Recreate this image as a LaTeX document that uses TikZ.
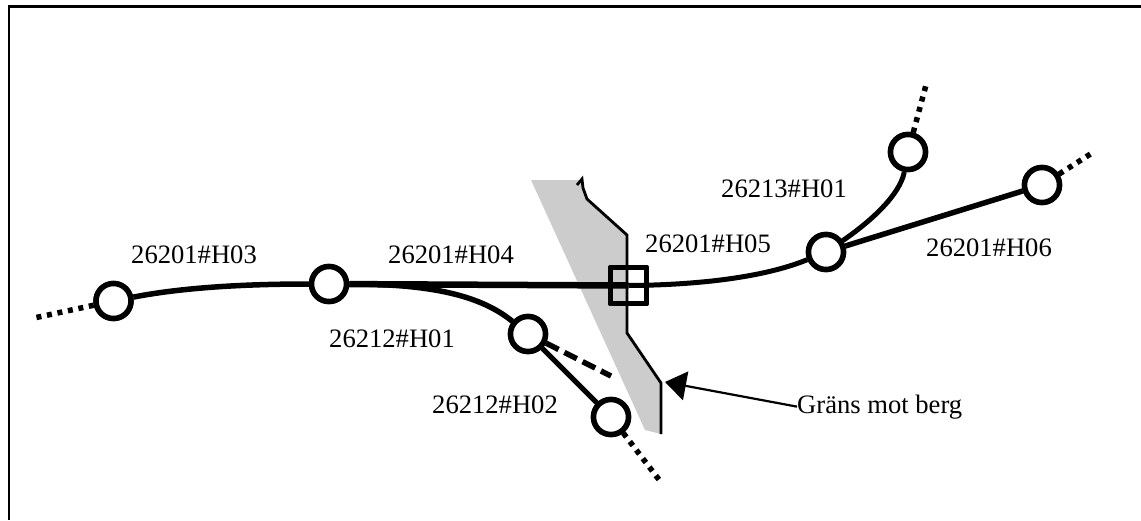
\documentclass[tikz,border=0pt]{standalone}
\usepackage{fontspec}
\setmainfont{Liberation Serif}
\usetikzlibrary{arrows.meta}
\definecolor{rockgrey}{gray}{0.8}
\tikzset{
  x=1pt,y=-1pt,
  station/.style={circle,draw=black,fill=white,line width=5.5pt,minimum size=35pt,inner sep=0pt},
  crossing/.style={rectangle,draw=black,line width=5.5pt,minimum size=36pt,inner sep=0pt,line join=round},
  lbl/.style={anchor=base west,inner sep=0pt,font=\fontsize{26.6}{30}\selectfont},
  thickline/.style={line width=6.5pt},
  trackline/.style={line width=5.5pt},
  dottedline/.style={line width=5.5pt,dash pattern=on 5pt off 5.7pt},
  dashedline/.style={line width=5.5pt,dash pattern=on 14pt off 6.5pt},
  boundary/.style={line width=2.8pt,line join=miter},
}
\begin{document}
\begin{tikzpicture}
\useasboundingbox (0,0) rectangle (1141,520);
\draw[line width=2.2pt] (1141,6.5) -- (9,6.5) -- (9,520);
\fill[rockgrey] (531,180) -- (582,180) -- (583,188) -- (587,199) -- (627,235) -- (627,333) -- (661,383) -- (661,434) -- (645,430) -- cycle;
\draw[boundary] (577,185) -- (582,179) -- (583,188) -- (587,199) -- (627,235) -- (627,333) -- (661,383) -- (661,434);

\coordinate (endA) at (34,318);
\coordinate (endD) at (660,481);
\coordinate (endF) at (926,85);
\coordinate (endG) at (1092,153);
\coordinate (endC) at (611,376);
\coordinate (tip) at (665,382);

\node[station] (A) at (113.5,301) {};
\node[station] (B) at (329,284) {};
\node[station] (C) at (528,334) {};
\node[station] (D) at (611,417) {};
\node[station] (E) at (826,252) {};
\node[station] (F) at (908,152) {};
\node[station] (G) at (1042,185) {};
\node[crossing] (Q) at (628.5,285.5) {};

\draw[dottedline] (A) -- (endA);
\draw[dottedline] (D) -- (endD);
\draw[dottedline] (F) -- (endF);
\draw[dottedline] (G) -- (endG);
\draw[dashedline] (C) -- (endC);
\draw[trackline] (A) .. controls (190,286) and (260,284) .. (B);
\draw[thickline] (B) -- (Q.center);
\draw[trackline] (B) .. controls (430,284) and (480,295) .. (C);
\draw[trackline,line width=5pt] (C) -- (D);
\draw[trackline,line width=5pt] (Q.center) .. controls (700,285) and (765,277) .. (E);
\draw[trackline,line width=5pt] (E) .. controls (870,222) and (900,195) .. (F);
\draw[trackline] (E) -- (G);

\node[station] at (A) {};
\node[station] at (B) {};
\node[station] at (C) {};
\node[station] at (D) {};
\node[station] at (E) {};
\node[station] at (F) {};
\node[station] at (G) {};
\node[crossing] at (Q) {};

\node[lbl] (l1) at (131,263) {26201\#H03};
\node[lbl] (l2) at (388,263) {26201\#H04};
\node[lbl] (l3) at (329,347) {26212\#H01};
\node[lbl] (l4) at (432,413) {26212\#H02};
\node[lbl] (l5) at (645,252) {26201\#H05};
\node[lbl] (l6) at (721,197) {26213\#H01};
\node[lbl] (l7) at (926,256) {26201\#H06};
\node[lbl] (gr) at (797,413) {Gräns mot berg};
\draw[line width=2.2pt,-{Triangle[length=21pt,width=29pt]}] (gr.west) -- (tip);
\end{tikzpicture}
\end{document}
